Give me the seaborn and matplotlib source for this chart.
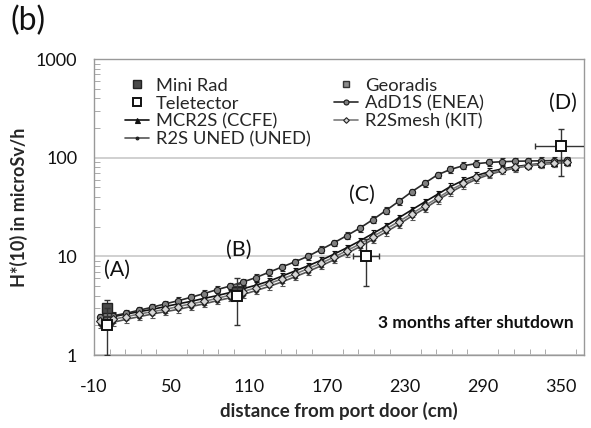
import numpy as np
import pandas as pd
import seaborn as sns
import matplotlib.pyplot as plt
from matplotlib.ticker import FixedLocator, LogLocator, NullFormatter

# simulated dose rate along the port, x in cm
SIM_X = [-5, 5, 15, 25, 35, 45, 55, 65, 75, 85, 95, 105, 115, 125, 135, 145, 155, 165, 175,
         185, 195, 205, 215, 225, 235, 245, 255, 265, 275, 285, 295, 305, 315, 325, 335, 345, 355]

MCR2S = [2.35, 2.45, 2.6, 2.75, 2.9, 3.1, 3.3, 3.5, 3.75, 4.0, 4.3, 4.7, 5.1, 5.6, 6.3, 7.1, 8.0,
         9.1, 10.5, 12.2, 14.3, 17.0, 20.2, 24.5, 29.5, 35.5, 42.5, 51, 59, 66, 72, 77, 81, 84.5,
         87, 89, 91]
R2S_UNED = [2.05, 2.15, 2.3, 2.45, 2.6, 2.75, 2.9, 3.1, 3.3, 3.55, 3.8, 4.1, 4.5, 4.95, 5.5, 6.2,
            7.0, 8.0, 9.2, 10.7, 12.5, 14.8, 17.6, 21, 25.5, 30.5, 37, 44.5, 52.5, 60.5, 67.5,
            73.5, 78.5, 82.5, 85.5, 87.5, 89.5]
ADD1S = [2.4, 2.5, 2.65, 2.85, 3.05, 3.3, 3.55, 3.85, 4.2, 4.6, 5.0, 5.5, 6.1, 6.9, 7.8, 8.8,
         10.0, 11.7, 13.7, 16.2, 19.3, 23.5, 29, 36, 45, 55, 67, 76, 83, 87, 89.5, 91, 92, 92.5,
         93, 93.5, 94]
R2SMESH = [2.2, 2.3, 2.45, 2.6, 2.75, 2.9, 3.1, 3.3, 3.5, 3.75, 4.05, 4.4, 4.8, 5.3, 5.9, 6.6,
           7.5, 8.5, 9.8, 11.4, 13.3, 15.8, 18.8, 22.5, 27, 32.5, 39, 47, 55, 63, 69.5, 75, 79.5,
           83, 86, 88, 90]
SIM_ERR_FRAC = 0.08

# measurements
MINIRAD_X = [0, 100]
MINIRAD_Y = [3.0, 4.3]
MINIRAD_ERR = [0.6, 0.7]
GEORADIS_X = [0, 100]
GEORADIS_Y = [2.7, 4.6]
GEORADIS_ERR = [0.4, 0.7]
TELE_X = [0, 100, 200, 350]
TELE_Y = [2.0, 4.0, 10.0, 130.0]
TELE_YLO = [1.0, 2.0, 5.0, 65.0]
TELE_YHI = [3.0, 6.0, 15.0, 195.0]
TELE_XERR = [0, 0, 10, 20]

POINT_LABELS = ['(A)', '(B)', '(C)', '(D)']
POINT_LABEL_X = [8, 102, 197, 352]
POINT_LABEL_Y = [7.3, 11.7, 42, 360]

X_TICKS = [-10, 50, 110, 170, 230, 290, 350]
Y_TICKS = [1, 10, 100, 1000]

sns.set_theme(style='white')
plt.rcParams['font.family'] = ['Lato', 'DejaVu Sans']
plt.rcParams['axes.unicode_minus'] = False

fig = plt.figure(figsize=(5.91, 4.28), dpi=100)
ax = fig.add_axes([94 / 591, 73 / 428, 490 / 591, 296 / 428])

sim = pd.DataFrame({'x': SIM_X, 'MCR2S (CCFE)': MCR2S, 'R2S UNED (UNED)': R2S_UNED,
                    'AdD1S (ENEA)': ADD1S, 'R2Smesh (KIT)': R2SMESH})

sim_styles = {
    'MCR2S (CCFE)': dict(color='#111111', marker='^', ms=4.5, mfc='#111111', mec='#111111'),
    'R2S UNED (UNED)': dict(color='#555555', marker='o', ms=2.5, mfc='#222222', mec='#222222'),
    'AdD1S (ENEA)': dict(color='#2a2a2a', marker='o', ms=4.5, mfc='#808080', mec='#1a1a1a'),
    'R2Smesh (KIT)': dict(color='#7a7a7a', marker='D', ms=3.6, mfc='#d5d5d5', mec='#222222'),
}

handles = {}
for name, st in sim_styles.items():
    y = np.array(sim[name])
    ax.errorbar(sim['x'], y, yerr=y * SIM_ERR_FRAC, fmt='none', ecolor=st['color'],
                elinewidth=0.8, capsize=1.8, capthick=0.8, zorder=2)
    sns.lineplot(data=sim, x='x', y=name, ax=ax, color=st['color'], lw=1.2,
                 marker=st['marker'], markersize=st['ms'], markerfacecolor=st['mfc'],
                 markeredgecolor=st['mec'], markeredgewidth=0.8, zorder=3, label=name)
    handles[name] = ax.lines[-1]

ax.errorbar(GEORADIS_X, GEORADIS_Y, yerr=GEORADIS_ERR, fmt='none', ecolor='#444444',
            elinewidth=0.9, capsize=2.5, zorder=4)
h_geo, = ax.plot(GEORADIS_X, GEORADIS_Y, ls='none', marker='s', ms=6, mfc='#8c8c8c',
                 mec='#333333', mew=1, zorder=5, label='Georadis')
ax.errorbar(MINIRAD_X, MINIRAD_Y, yerr=MINIRAD_ERR, fmt='none', ecolor='#333333',
            elinewidth=0.9, capsize=2.5, zorder=4)
h_mini, = ax.plot(MINIRAD_X, MINIRAD_Y, ls='none', marker='s', ms=7.5, mfc='#4a4a4a',
                  mec='#222222', mew=1, zorder=5, label='Mini Rad')
tele_y = np.array(TELE_Y)
yerr = [tele_y - np.array(TELE_YLO), np.array(TELE_YHI) - tele_y]
ax.errorbar(TELE_X, TELE_Y, yerr=yerr, xerr=TELE_XERR, fmt='none', ecolor='#333333',
            elinewidth=1.0, capsize=2.5, zorder=6)
h_tele, = ax.plot(TELE_X, TELE_Y, ls='none', marker='s', ms=7, mfc='white',
                  mec='#111111', mew=1.4, zorder=7, label='Teletector')

for lab, lx, ly in zip(POINT_LABELS, POINT_LABEL_X, POINT_LABEL_Y):
    ax.text(lx, ly, lab, fontsize=15.5, ha='center', va='center', color='#111111', zorder=8)

ax.text(0.978, 0.108, '3 months after shutdown', transform=ax.transAxes, ha='right',
        va='center', fontsize=12.5, fontweight='bold', color='#111111')

ax.set_yscale('log')
ax.set_ylim(1, 1000)
ax.set_xlim(-10, 368)
ax.xaxis.set_major_locator(FixedLocator(X_TICKS))
ax.set_xticklabels([str(v) for v in X_TICKS])
ax.xaxis.set_minor_locator(FixedLocator(np.arange(2, 368, 12)))
ax.yaxis.set_major_locator(FixedLocator(Y_TICKS))
ax.yaxis.set_minor_locator(LogLocator(base=10, subs=np.arange(2, 10)))
ax.yaxis.set_minor_formatter(NullFormatter())
ax.set_yticklabels([str(v) for v in Y_TICKS])

ax.grid(True, axis='y', which='major', color='#c8c8c8', lw=1.2)
for sp in ax.spines.values():
    sp.set_color('#999999')
    sp.set_linewidth(1.0)

ax.tick_params(axis='both', which='major', direction='out', length=5, width=0.9,
               color='#888888', labelsize=13, labelcolor='#111111')
ax.tick_params(axis='x', which='major', pad=12)
ax.tick_params(axis='y', which='major', pad=7)
ax.tick_params(axis='both', which='minor', direction='in', length=4, width=0.7,
               color='#aaaaaa')
ax.tick_params(axis='x', which='minor', bottom=True)
ax.tick_params(axis='y', which='minor', left=True)

ax.set_xlabel('distance from port door (cm)', fontsize=13.5, fontweight='bold', labelpad=5)
ax.set_ylabel('H*(10) in microSv/h', fontsize=13, fontweight='bold', labelpad=6)

order = [h_mini, h_tele, handles['MCR2S (CCFE)'], handles['R2S UNED (UNED)'],
         h_geo, handles['AdD1S (ENEA)'], handles['R2Smesh (KIT)']]
labels = ['Mini Rad', 'Teletector', 'MCR2S (CCFE)', 'R2S UNED (UNED)',
          'Georadis', 'AdD1S (ENEA)', 'R2Smesh (KIT)']
ax.legend(order, labels, ncol=2, loc='upper left', bbox_to_anchor=(0.038, 0.98),
          frameon=False, fontsize=13.2, handlelength=1.3, handletextpad=0.35,
          labelspacing=0.1, columnspacing=1.3, borderpad=0.2, markerscale=0.8)

fig.text(0.018, 0.95, '(b)', fontsize=23, ha='left', va='center', color='#111111')

fig.savefig('out.png', dpi=100)
